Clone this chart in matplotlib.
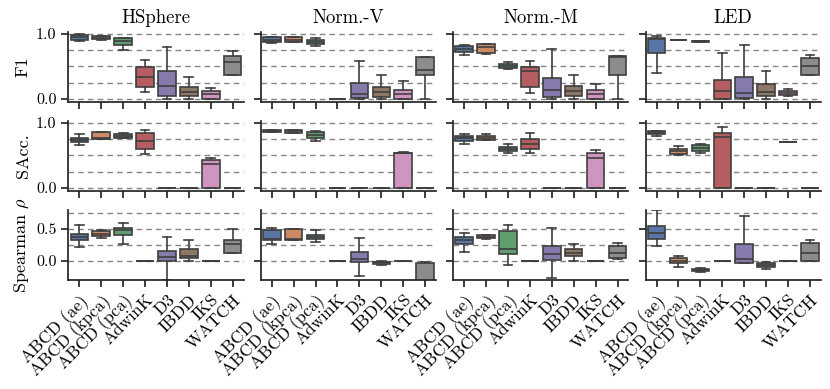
import matplotlib
matplotlib.use("Agg")
import matplotlib.pyplot as plt
import seaborn as sns

plt.rcParams["font.family"] = ["cmr10", "DejaVu Serif"]
plt.rcParams["mathtext.fontset"] = "cm"
plt.rcParams["axes.formatter.use_mathtext"] = True

datasets = ["HSphere", "Norm.-V", "Norm.-M", "LED"]
detectors = ["ABCD (ae)", "ABCD (kpca)", "ABCD (pca)", "AdwinK", "D3", "IBDD", "IKS", "WATCH"]
metrics = ["F1", "SAcc.", "Spearman $\\rho$"]

# box stats per detector: (whislo, q1, median, q3, whishi)
f1_hsphere = [(0.88, 0.91, 0.95, 0.98, 0.99), (0.91, 0.92, 0.94, 0.96, 0.97), (0.75, 0.83, 0.89, 0.93, 0.935),
              (0.11, 0.18, 0.34, 0.49, 0.60), (0.0, 0.04, 0.20, 0.42, 0.80), (0.0, 0.05, 0.10, 0.18, 0.34),
              (0.0, 0.0, 0.07, 0.12, 0.17), (0.37, 0.37, 0.56, 0.65, 0.74)]
f1_normv = [(0.85, 0.87, 0.90, 0.945, 0.945), (0.87, 0.87, 0.91, 0.945, 0.945), (0.81, 0.84, 0.87, 0.90, 0.935),
            (0.0, 0.0, 0.0, 0.0, 0.0), (0.0, 0.01, 0.07, 0.25, 0.58), (0.0, 0.035, 0.11, 0.18, 0.37),
            (0.0, 0.0, 0.07, 0.14, 0.28), (0.0, 0.37, 0.44, 0.64, 0.64)]
f1_normm = [(0.67, 0.72, 0.77, 0.81, 0.82), (0.69, 0.71, 0.80, 0.84, 0.84), (0.45, 0.47, 0.50, 0.54, 0.57),
            (0.09, 0.18, 0.43, 0.49, 0.58), (0.0, 0.03, 0.13, 0.32, 0.76), (0.0, 0.04, 0.12, 0.19, 0.37),
            (0.0, 0.0, 0.08, 0.13, 0.22), (0.0, 0.37, 0.645, 0.65, 0.65)]
f1_led = [(0.40, 0.70, 0.92, 0.93, 0.965), (0.895, 0.895, 0.90, 0.905, 0.905), (0.875, 0.875, 0.88, 0.89, 0.89),
          (0.0, 0.0, 0.12, 0.29, 0.70), (0.0, 0.01, 0.09, 0.34, 0.82), (0.0, 0.045, 0.10, 0.22, 0.42),
          (0.04, 0.06, 0.09, 0.12, 0.15), (0.37, 0.37, 0.50, 0.63, 0.67)]

sacc_hsphere = [(0.65, 0.70, 0.74, 0.77, 0.82), (0.75, 0.75, 0.77, 0.85, 0.855), (0.77, 0.77, 0.80, 0.83, 0.845),
                (0.52, 0.60, 0.72, 0.84, 0.89), (0.0, 0.0, 0.0, 0.0, 0.0), (0.0, 0.0, 0.0, 0.0, 0.0),
                (0.0, 0.0, 0.37, 0.42, 0.46), (0.0, 0.0, 0.0, 0.0, 0.0)]
sacc_normv = [(0.85, 0.85, 0.865, 0.88, 0.88), (0.84, 0.84, 0.87, 0.89, 0.89), (0.715, 0.76, 0.81, 0.855, 0.865),
              (0.0, 0.0, 0.0, 0.0, 0.0), (0.0, 0.0, 0.0, 0.0, 0.0), (0.0, 0.0, 0.0, 0.0, 0.0),
              (0.0, 0.0, 0.53, 0.53, 0.545), (0.0, 0.0, 0.0, 0.0, 0.0)]
sacc_normm = [(0.68, 0.725, 0.77, 0.80, 0.82), (0.74, 0.74, 0.77, 0.80, 0.83), (0.54, 0.57, 0.60, 0.63, 0.67),
              (0.53, 0.60, 0.67, 0.75, 0.84), (0.0, 0.0, 0.0, 0.0, 0.0), (0.0, 0.0, 0.0, 0.0, 0.0),
              (0.0, 0.0, 0.46, 0.54, 0.585), (0.0, 0.0, 0.0, 0.0, 0.0)]
sacc_led = [(0.79, 0.82, 0.845, 0.87, 0.87), (0.51, 0.52, 0.565, 0.60, 0.64), (0.54, 0.57, 0.61, 0.65, 0.68),
            (0.0, 0.0, 0.78, 0.84, 0.93), (0.0, 0.0, 0.0, 0.0, 0.0), (0.0, 0.0, 0.0, 0.0, 0.0),
            (0.70, 0.70, 0.705, 0.71, 0.71), (0.0, 0.0, 0.0, 0.0, 0.0)]

rho_hsphere = [(0.21, 0.33, 0.38, 0.42, 0.56), (0.36, 0.39, 0.42, 0.46, 0.48), (0.26, 0.40, 0.48, 0.52, 0.60),
               (0.0, 0.0, 0.0, 0.0, 0.0), (-0.30, 0.005, 0.057, 0.16, 0.38), (0.0, 0.04, 0.08, 0.18, 0.33),
               (0.0, 0.0, 0.0, 0.0, 0.0), (0.12, 0.12, 0.26, 0.32, 0.50)]
rho_normv = [(0.27, 0.32, 0.345, 0.48, 0.51), (0.32, 0.33, 0.345, 0.50, 0.50), (0.30, 0.345, 0.375, 0.41, 0.49),
             (0.0, 0.0, 0.0, 0.0, 0.0), (-0.23, -0.01, 0.035, 0.14, 0.355), (-0.065, -0.045, -0.025, -0.01, 0.0),
             (0.0, 0.0, 0.0, 0.0, 0.0), (-0.50, -0.45, -0.36, -0.04, -0.025)]
rho_normm = [(0.14, 0.26, 0.33, 0.37, 0.43), (0.345, 0.36, 0.38, 0.40, 0.41), (-0.07, 0.11, 0.18, 0.47, 0.56),
             (0.0, 0.0, 0.0, 0.0, 0.0), (-0.26, 0.02, 0.10, 0.23, 0.51), (0.0, 0.07, 0.12, 0.18, 0.26),
             (0.0, 0.0, 0.0, 0.0, 0.0), (0.035, 0.05, 0.13, 0.24, 0.28)]
rho_led = [(0.23, 0.34, 0.44, 0.55, 0.79), (-0.10, -0.04, 0.0, 0.05, 0.08), (-0.175, -0.16, -0.14, -0.12, -0.11),
           (0.0, 0.0, 0.0, 0.0, 0.0), (-0.03, -0.03, 0.025, 0.27, 0.70), (-0.12, -0.10, -0.07, -0.035, -0.01),
           (0.0, 0.0, 0.0, 0.0, 0.0), (0.0, 0.0, 0.13, 0.28, 0.32)]

table = [
    [f1_hsphere, f1_normv, f1_normm, f1_led],
    [sacc_hsphere, sacc_normv, sacc_normm, sacc_led],
    [rho_hsphere, rho_normv, rho_normm, rho_led],
]

palette = [sns.desaturate(c, 0.75) for c in sns.color_palette("deep", 8)]
edge = "#3f3f3f"

fig, axes = plt.subplots(3, 4, figsize=(8.3, 3.89), dpi=100, sharex=True)
fig.subplots_adjust(left=0.0824, right=0.989, top=0.9185, bottom=0.28, wspace=0.098, hspace=0.265)

for r, row in enumerate(table):
    for c, stats in enumerate(row):
        ax = axes[r, c]
        bxp_stats = [dict(whislo=s[0], q1=s[1], med=s[2], q3=s[3], whishi=s[4], label=d)
                     for s, d in zip(stats, detectors)]
        parts = ax.bxp(bxp_stats, positions=range(len(detectors)), widths=0.8, patch_artist=True,
                       showfliers=False,
                       boxprops=dict(edgecolor=edge, linewidth=1.2),
                       medianprops=dict(color=edge, linewidth=1.2),
                       whiskerprops=dict(color=edge, linewidth=1.2),
                       capprops=dict(color=edge, linewidth=1.2))
        for patch, col in zip(parts["boxes"], palette):
            patch.set_facecolor(col)
        for cap in parts["caps"]:
            x0, x1 = cap.get_xdata()
            m = (x0 + x1) / 2
            cap.set_xdata([m - 0.2, m + 0.2])

        if r < 2:
            grid = [0, 0.25, 0.5, 0.75, 1.0]
            ax.set_ylim(-0.05, 1.03)
            ax.set_yticks([0, 1])
            ax.set_yticklabels(["0.0", "1.0"])
        else:
            grid = [0, 0.25, 0.5, 0.75]
            ax.set_ylim(-0.30, 0.80)
            ax.set_yticks([0, 0.5])
            ax.set_yticklabels(["0.0", "0.5"])
        for g in grid:
            ax.axhline(g, color="#858585", ls=(0, (4, 3)), lw=1.0, zorder=0)

        ax.set_xlim(-0.5, len(detectors) - 0.5)
        ax.set_xticks(range(len(detectors)))
        for side in ["top", "right"]:
            ax.spines[side].set_visible(False)
        for side in ["left", "bottom"]:
            ax.spines[side].set_linewidth(1.25)
            ax.spines[side].set_color("#262626")
        ax.tick_params(axis="both", length=5, width=1.25, color="#262626", labelsize=11.5)
        if c > 0:
            ax.tick_params(axis="y", labelleft=False)
        else:
            ax.set_ylabel(metrics[r], fontsize=13)
        if r == 0:
            ax.set_title(datasets[c], fontsize=13.5)
        if r == 2:
            ax.set_xticklabels(detectors, rotation=45, ha="right", rotation_mode="anchor", fontsize=12.5)

fig.align_ylabels(axes[:, 0])
fig.savefig("out.png", dpi=100)
